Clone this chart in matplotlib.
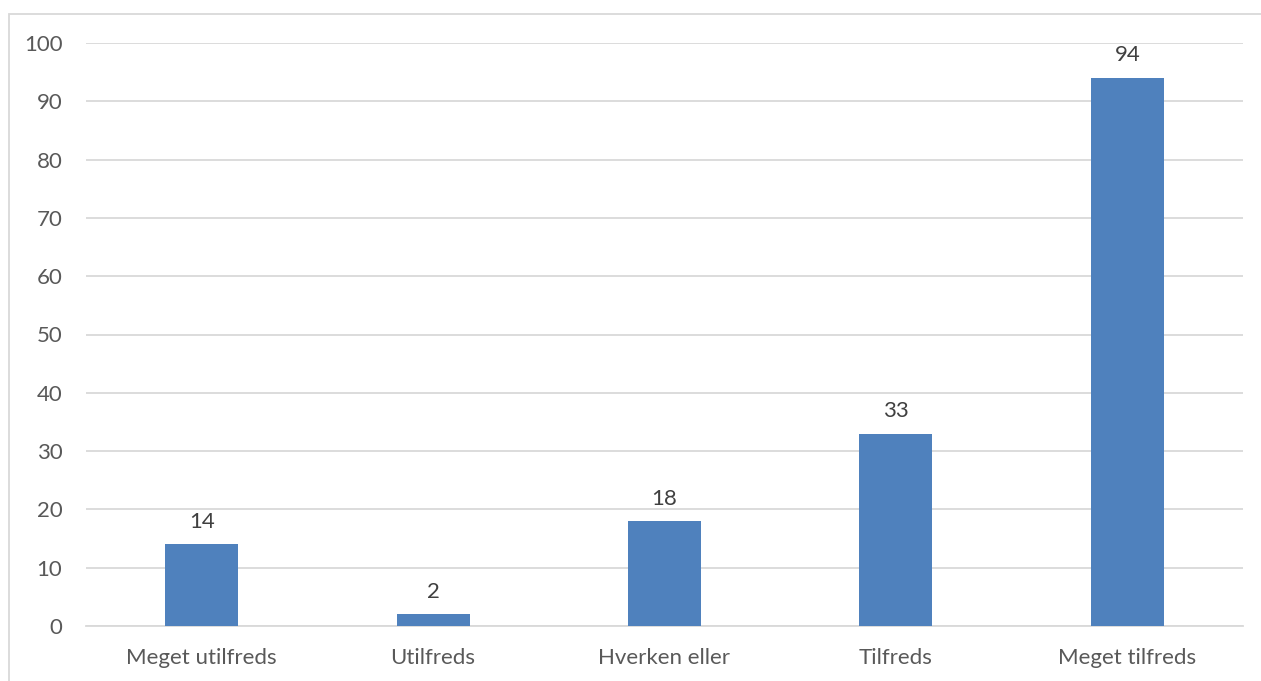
import matplotlib.pyplot as plt
from matplotlib.patches import Rectangle

categories = ["Meget utilfreds", "Utilfreds", "Hverken eller", "Tilfreds", "Meget tilfreds"]
values = [14, 2, 18, 33, 94]
yticks = [0, 10, 20, 30, 40, 50, 60, 70, 80, 90, 100]

plt.rcParams["font.family"] = ["Lato", "DejaVu Sans"]

W, H = 1261, 681
fig = plt.figure(figsize=(W / 100, H / 100), dpi=100)
ax = fig.add_axes([86 / W, (H - 626) / H, (1243 - 86) / W, (626 - 43) / H])

x = range(len(categories))
bars = ax.bar(x, values, width=0.315, color="#4f81bd", zorder=3)

for b, v in zip(bars, values):
    ax.annotate(str(v), (b.get_x() + b.get_width() / 2, v), xytext=(0, 9),
                textcoords="offset points", ha="center", va="bottom",
                fontsize=16, color="#404040")

ax.set_xlim(-0.5, len(categories) - 0.5)
ax.set_ylim(0, 100)
ax.set_yticks(yticks)
ax.set_xticks(list(x))
ax.set_xticklabels(categories)
ax.grid(axis="y", color="#d9d9d9", linewidth=1.3, zorder=0)
for s in ["top", "right", "left"]:
    ax.spines[s].set_visible(False)
ax.spines["bottom"].set_color("#d9d9d9")
ax.spines["bottom"].set_linewidth(1.3)
ax.tick_params(axis="both", length=0, labelsize=16, labelcolor="#595959")
ax.tick_params(axis="y", pad=17)
ax.tick_params(axis="x", pad=16)

# outer chart frame (runs off the right and bottom edges)
fig.patches.append(Rectangle((9 / W, -0.05), 1.1, (H - 14) / H + 0.05,
                             transform=fig.transFigure, fill=False,
                             edgecolor="#d9d9d9", linewidth=1.3))

fig.savefig("out.png", dpi=100)
